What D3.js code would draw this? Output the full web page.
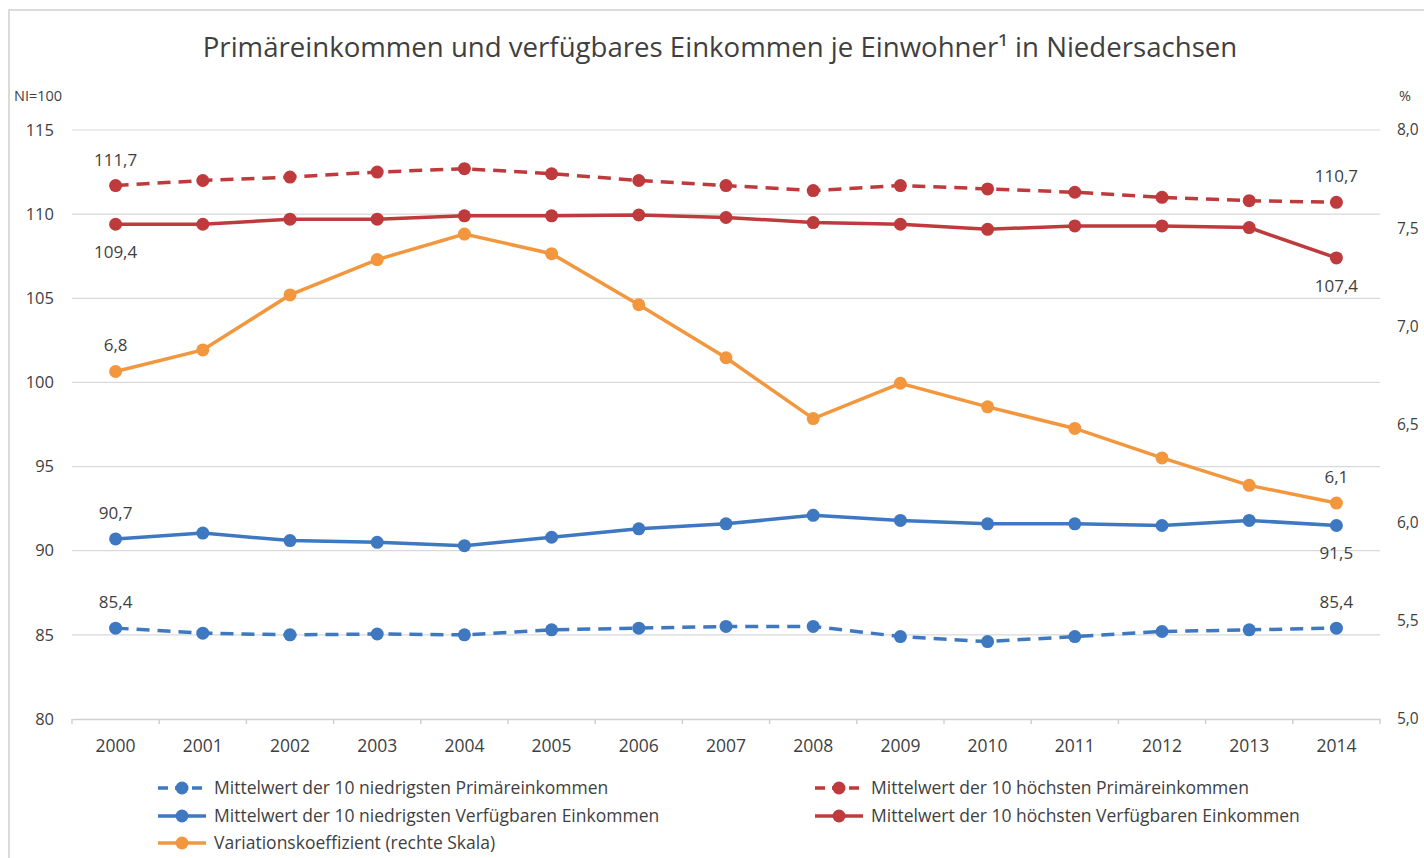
<!DOCTYPE html>
<html>
<head>
<meta charset="utf-8">
<script src="https://cdn.jsdelivr.net/npm/d3@7"></script>
<style>
  body { margin: 0; background: #fff; }
  svg text { font-family: "Open Sans", "Noto Sans", sans-serif; }
</style>
</head>
<body>
<div id="chart"></div>
<script>
"use strict";

// data
var years = ["2000","2001","2002","2003","2004","2005","2006","2007","2008","2009","2010","2011","2012","2013","2014"];
var lowPrimary  = [85.4, 85.1, 85.0, 85.05, 85.0, 85.3, 85.4, 85.5, 85.5, 84.9, 84.6, 84.9, 85.2, 85.3, 85.4];
var highPrimary = [111.7, 112.0, 112.2, 112.5, 112.7, 112.4, 112.0, 111.7, 111.4, 111.7, 111.5, 111.3, 111.0, 110.8, 110.7];
var lowDisp     = [90.7, 91.05, 90.6, 90.5, 90.3, 90.8, 91.3, 91.6, 92.1, 91.8, 91.6, 91.6, 91.5, 91.8, 91.5];
var highDisp    = [109.4, 109.4, 109.7, 109.7, 109.9, 109.9, 109.95, 109.8, 109.5, 109.4, 109.1, 109.3, 109.3, 109.2, 107.4];
var variation   = [6.77, 6.88, 7.16, 7.34, 7.47, 7.37, 7.11, 6.84, 6.53, 6.71, 6.59, 6.48, 6.33, 6.19, 6.1];

var leftTicks  = [80, 85, 90, 95, 100, 105, 110, 115];
var rightTicks = [5.0, 5.5, 6.0, 6.5, 7.0, 7.5, 8.0];

var series = [
  {name:"Mittelwert der 10 niedrigsten Primäreinkommen", values: lowPrimary, color:"#3d78c0", dash:true, axis:"left",
   first:"85,4", firstPos:"above", last:"85,4", lastPos:"above"},
  {name:"Mittelwert der 10 höchsten Primäreinkommen", values: highPrimary, color:"#bf3a3c", dash:true, axis:"left",
   first:"111,7", firstPos:"above", last:"110,7", lastPos:"above"},
  {name:"Mittelwert der 10 niedrigsten Verfügbaren Einkommen", values: lowDisp, color:"#3d78c0", dash:false, axis:"left",
   first:"90,7", firstPos:"above", last:"91,5", lastPos:"below"},
  {name:"Mittelwert der 10 höchsten Verfügbaren Einkommen", values: highDisp, color:"#bf3a3c", dash:false, axis:"left",
   first:"109,4", firstPos:"below", last:"107,4", lastPos:"below"},
  {name:"Variationskoeffizient (rechte Skala)", values: variation, color:"#f3973f", dash:false, axis:"right",
   first:"6,8", firstPos:"above", last:"6,1", lastPos:"above"}
];

var width = 1424, height = 858;
var plot = {left: 72, right: 1380, top: 130, bottom: 719};
var textColor = "#3f3f3f";
var fmt = function(v){ return d3.format(".1f")(v).replace(".", ","); };

var svg = d3.select("#chart").append("svg")
  .attr("width", width)
  .attr("height", height);

// outer frame
svg.append("rect")
  .attr("x", 9).attr("y", 10)
  .attr("width", width).attr("height", height)
  .style("fill", "none")
  .style("stroke", "#d0d0d0")
  .style("stroke-width", 1.5);

svg.append("text")
  .attr("x", 720).attr("y", 57)
  .attr("text-anchor", "middle")
  .style("font-size", "27.6px")
  .style("fill", textColor)
  .text("Primäreinkommen und verfügbares Einkommen je Einwohner¹ in Niedersachsen");

var x = d3.scaleBand().domain(years).range([plot.left, plot.right]);
var yL = d3.scaleLinear().domain([80, 115]).range([plot.bottom, plot.top]);
var yR = d3.scaleLinear().domain([5, 8]).range([plot.bottom, plot.top]);

// gridlines
svg.append("g")
  .selectAll("line")
  .data(leftTicks.slice(1))
  .enter().append("line")
  .attr("x1", plot.left).attr("x2", plot.right)
  .attr("y1", function(d){ return yL(d); })
  .attr("y2", function(d){ return yL(d); })
  .style("stroke", "#d9d9d9")
  .style("stroke-width", 1.2);

// left axis
var gl = svg.append("g")
  .attr("transform", "translate(" + plot.left + ",0)")
  .call(d3.axisLeft(yL).tickValues(leftTicks).tickSize(0).tickPadding(18).tickFormat(d3.format("d")));
gl.select(".domain").remove();
gl.selectAll("text").style("font-size", "16.5px").style("fill", textColor).style("font-family", "'Open Sans', sans-serif");

// right axis
var gr = svg.append("g")
  .attr("transform", "translate(" + (plot.right + 17) + ",0)")
  .call(d3.axisRight(yR).tickValues(rightTicks).tickSize(0).tickPadding(0).tickFormat(fmt));
gr.select(".domain").remove();
gr.selectAll("text").style("font-size", "15.5px").style("fill", textColor).style("font-family", "'Open Sans', sans-serif");

svg.append("text").attr("x", 14).attr("y", 101)
  .style("font-size", "14.5px").style("fill", textColor).text("NI=100");
svg.append("text").attr("x", 1399).attr("y", 101)
  .style("font-size", "14.5px").style("fill", textColor).text("%");

// x axis with ticks at the category borders
var gx = svg.append("g")
  .attr("transform", "translate(0," + plot.bottom + ")")
  .call(d3.axisBottom(x).tickSize(0).tickPadding(21));
gx.select(".domain").style("stroke", "#d0d0d0").style("stroke-width", 1.5);
gx.selectAll("text").style("font-size", "17.5px").style("fill", textColor).style("font-family", "'Open Sans', sans-serif");
gx.append("g").selectAll("line")
  .data(years.concat(["end"]))
  .enter().append("line")
  .attr("x1", function(d,i){ return plot.left + i*x.bandwidth(); })
  .attr("x2", function(d,i){ return plot.left + i*x.bandwidth(); })
  .attr("y1", 0).attr("y2", 5)
  .style("stroke", "#d0d0d0").style("stroke-width", 1.5);

// lines and markers
var cx = function(d,i){ return x(years[i]) + x.bandwidth()/2; };

series.forEach(function(s){
  var y = s.axis === "left" ? yL : yR;
  var line = d3.line().x(cx).y(function(d){ return y(d); });

  svg.append("path")
    .datum(s.values)
    .attr("d", line)
    .style("fill", "none")
    .style("stroke", s.color)
    .style("stroke-width", 3.5)
    .style("stroke-dasharray", s.dash ? "13,8" : null);

  svg.append("g").selectAll("circle")
    .data(s.values)
    .enter().append("circle")
    .attr("cx", cx)
    .attr("cy", function(d){ return y(d); })
    .attr("r", 6.5)
    .style("fill", s.color);

  // end labels
  var n = s.values.length;
  [[0, s.first, s.firstPos], [n-1, s.last, s.lastPos]].forEach(function(l){
    var py = y(s.values[l[0]]);
    svg.append("text")
      .attr("x", cx(null, l[0]))
      .attr("y", l[2] === "above" ? py - 20 : py + 34)
      .attr("text-anchor", "middle")
      .style("font-size", "17px")
      .style("fill", textColor)
      .text(l[1]);
  });
});

// legend
var legendPos = [
  {x: 158, y: 788}, {x: 815, y: 788},
  {x: 158, y: 816}, {x: 815, y: 816},
  {x: 158, y: 843}
];

var legend = svg.append("g").selectAll("g.legenditem")
  .data(series)
  .enter().append("g")
  .attr("class", "legenditem")
  .attr("transform", function(d,i){ return "translate(" + legendPos[i].x + "," + legendPos[i].y + ")"; });

legend.append("line")
  .attr("x1", 0).attr("x2", 48)
  .attr("y1", 0).attr("y2", 0)
  .style("stroke", function(d){ return d.color; })
  .style("stroke-width", 3.5)
  .style("stroke-dasharray", function(d){ return d.dash ? "10,7" : null; });

legend.append("circle")
  .attr("cx", 24).attr("cy", 0).attr("r", 6.5)
  .style("fill", function(d){ return d.color; });

legend.append("text")
  .attr("x", 56).attr("y", 0).attr("dy", "0.35em")
  .style("font-size", "17.5px")
  .style("fill", textColor)
  .text(function(d){ return d.name; });
</script>
</body>
</html>
